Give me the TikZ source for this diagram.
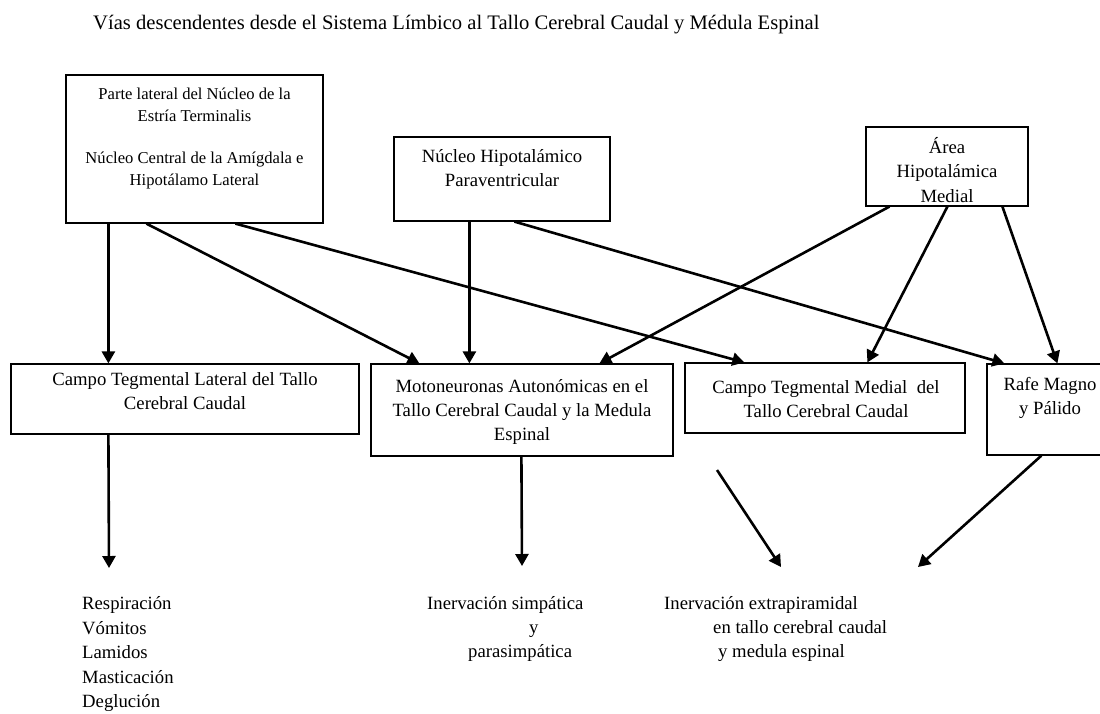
\documentclass[tikz,border=0pt]{standalone}
\usepackage{fontspec}
\setmainfont{Liberation Serif}
\usetikzlibrary{arrows.meta}

\begin{document}
\begin{tikzpicture}[x=1pt,y=-1pt,
  box/.style={draw, line width=1.2pt, inner sep=0pt},
  txt/.style={inner sep=0pt, align=center, font=\fontsize{18.7}{#1}\selectfont},
  txt/.default=24,
  small/.style={font=\fontsize{16.6}{22}\selectfont},
  arr/.style={line width=2.6pt, -{Triangle[length=12pt,width=13pt]}}]

\useasboundingbox (0,0) rectangle (1100,713);
\clip (0,0) rectangle (1100,713);

% title
\node[inner sep=0pt, anchor=base west, font=\fontsize{20.6}{24}\selectfont] (title) at (93,29) {Vías descendentes desde el Sistema Límbico al Tallo Cerebral Caudal y Médula Espinal};

% upper row of boxes
\node[box, minimum width=257pt, minimum height=148pt] (A) at (194.5,149) {};
\node[box, minimum width=216pt, minimum height=84pt] (B) at (502,179) {};
\node[box, minimum width=162pt, minimum height=79pt] (C) at (947,166.5) {};

\node[txt, small] (tA1) at (194.5,105) {Parte lateral del Núcleo de la\\Estría Terminalis};
\node[txt, small] (tA2) at (194.5,170) {Núcleo Central de la Amígdala e\\Hipotálamo Lateral};
\node[txt] (tB) at (502,168) {Núcleo Hipotalámico\\Paraventricular};
\node[txt=24.5] (tC) at (947,170) {Área\\Hipotalámica\\Medial};

% lower row of boxes
\node[box, minimum width=348pt, minimum height=70pt] (D) at (185,399) {};
\node[box, minimum width=302pt, minimum height=92pt] (E) at (522,410) {};
\node[box, minimum width=280pt, minimum height=70pt] (F) at (825,398) {};
\node[box, minimum width=128pt, minimum height=91pt] (G) at (1051,409.5) {};

\node[txt] (tD) at (185,391) {Campo Tegmental Lateral del Tallo\\Cerebral Caudal};
\node[txt] (tE) at (522,412) {Motoneuronas Autonómicas en el\\Tallo Cerebral Caudal y la Medula\\Espinal};
\node[txt] (tF) at (826,399) {Campo Tegmental Medial\ \ del\\Tallo Cerebral Caudal};
\node[txt] (tG) at (1050,397.5) {Rafe Magno\\y Pálido};

% outcomes
\node[txt=24.5, anchor=west, align=left] (oD) at (82,654.5) {Respiración\\Vómitos\\Lamidos\\Masticación\\Deglución};
\node[txt, anchor=west, align=left] (oE) at (427,629) {Inervación simpática\\\hspace*{102pt}y\\\hspace*{41pt}parasimpática};
\node[txt, anchor=west, align=left] (oF) at (664,629) {Inervación extrapiramidal\\\hspace*{49pt}en tallo cerebral caudal\\\hspace*{54pt}y medula espinal};

% free ends of the lower arrows
\coordinate (fF0) at (717,470);
\coordinate (fF1) at (781,567);
\coordinate (fG1) at (918,567);
\coordinate (fD1) at (109,568);
\coordinate (fE1) at (522,566);

% connectors between the rows
\draw[arr] ([xshift=43pt]A.south west) -- ([xshift=98pt]D.north west);
\draw[arr] ([xshift=81pt]A.south west) -- ([xshift=49pt]E.north west);
\draw[arr] ([xshift=170pt]A.south west) -- ([xshift=60pt]F.north west);
\draw[arr] ([xshift=76pt]B.south west) -- ([xshift=99pt]E.north west);
\draw[arr] ([xshift=121pt]B.south west) -- ([xshift=18pt]G.north west);
\draw[arr] ([xshift=24pt]C.south west) -- ([xshift=229pt]E.north west);
\draw[arr] ([xshift=82pt]C.south west) -- ([xshift=183pt]F.north west);
\draw[arr] ([xshift=137pt]C.south west) -- ([xshift=71pt]G.north west);

% connectors towards the outcomes
\draw[arr] ([xshift=98pt]D.south west) -- (fD1);
\draw[arr] ([xshift=151pt]E.south west) -- (fE1);
\draw[arr] (fF0) -- (fF1);
\draw[arr] ([xshift=55pt]G.south west) -- (fG1);
\end{tikzpicture}
\end{document}
